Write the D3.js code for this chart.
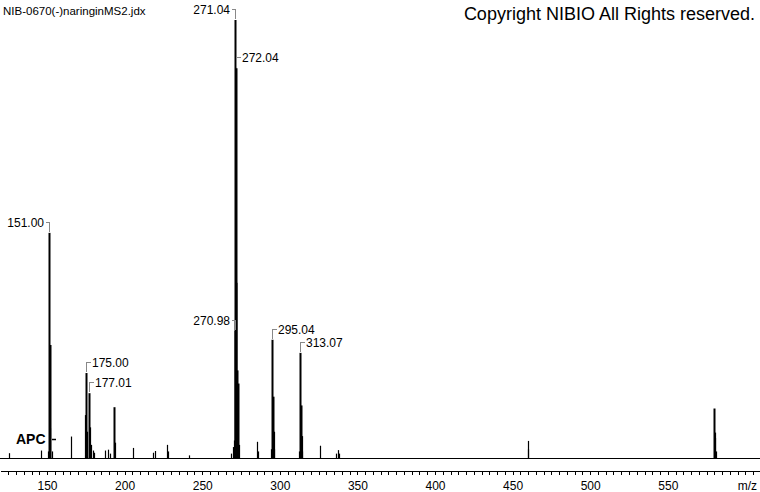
<!DOCTYPE html>
<html>
<head>
<meta charset="utf-8">
<script src="https://cdn.jsdelivr.net/npm/d3@7"></script>
<style>
  html, body { margin: 0; padding: 0; background: #fff; }
  svg { display: block; font-family: "Liberation Sans", Arial, sans-serif; }
</style>
</head>
<body>
<svg id="chart" width="760" height="492"></svg>
<script>
// ---- data ----
const fileName = "NIB-0670(-)naringinMS2.jdx";
const copyright = "Copyright NIBIO All Rights reserved.";
const ionLabel = "APC";
const axisUnit = "m/z";

// peak m/z values and relative intensities (%)
const peakMz = [125.8, 145.8, 150.4, 151.00, 151.6, 152.2, 153.0,
  165.6, 174.5, 175.00, 176.0, 177.01, 177.6, 178.3, 179.6, 180.4,
  187.5, 189.2, 190.5, 193.03, 193.5, 205.7, 218.5, 219.7, 227.2, 228.0, 241.8,
  268.8, 269.8, 270.3, 270.98, 271.04, 271.6, 272.04, 272.6, 273.04, 273.6,
  285.4, 286.0, 294.5, 295.04, 295.5, 296.0, 296.5,
  312.5, 313.07, 313.5, 314.0, 314.5,
  325.6, 336.5, 337.8, 338.3,
  459.6, 460.1, 579.7, 580.2, 580.6, 581.0];
const peakInt = [1.1, 1.7, 1.5, 51.4, 25.8, 6.8, 1.5,
  4.9, 9.8, 19.4, 6.0, 14.8, 7.0, 3.0, 1.7, 1.2,
  1.7, 1.9, 1.0, 11.6, 3.5, 2.3, 1.2, 1.6, 3.0, 1.5, 0.6,
  1.0, 2.5, 4.0, 29.0, 100, 40, 89, 20, 17, 3.0,
  3.7, 1.5, 2.0, 27, 14, 6.0, 2.0,
  1.5, 24, 12, 5.0, 1.5,
  2.8, 1.0, 1.8, 1.0,
  3.9, 2.0, 11.3, 5.8, 4.6, 1.5];

// annotated peaks
const labelMz = [151.00, 175.00, 177.01, 271.04, 272.04, 270.98, 295.04, 313.07];
const labelSide = ["left", "right", "right", "left", "right", "left", "right", "right"];

const tickValues = d3.range(125, 610, 5);
const tickLabelValues = [150, 200, 250, 300, 350, 400, 450, 500, 550];

// ---- drawing ----
const svg = d3.select("#chart");
const W = 760;
const x = d3.scaleLinear().domain([119.7, 609.4]).range([0, W]);
const y = d3.scaleLinear().domain([0, 100]).range([458, 20]);

const peaks = peakMz.map((m, i) => ({ m, v: peakInt[i] }));

// baseline
svg.append("line")
  .attr("x1", 0).attr("x2", W)
  .attr("y1", y(0)).attr("y2", y(0))
  .attr("stroke", "#000").attr("stroke-width", 1)
  .attr("shape-rendering", "crispEdges");

// peaks
svg.append("g").selectAll("line").data(peaks).join("line")
  .attr("x1", d => Math.round(x(d.m)) + 0.5)
  .attr("x2", d => Math.round(x(d.m)) + 0.5)
  .attr("y1", y(0))
  .attr("y2", d => y(d.v))
  .attr("stroke", "#000")
  .attr("stroke-width", d => d.v > 10 ? 2 : 1.2);

// axis
const axis = d3.axisBottom(x)
  .tickValues(tickValues)
  .tickSize(4)
  .tickSizeOuter(0)
  .tickPadding(6)
  .tickFormat(d => tickLabelValues.includes(d) ? d3.format("d")(d) : "");
const gAxis = svg.append("g")
  .attr("transform", "translate(0,471)")
  .call(axis);
gAxis.select(".domain").attr("stroke", "#000").attr("shape-rendering", "crispEdges");
gAxis.selectAll(".tick line").attr("stroke", "#000").attr("shape-rendering", "crispEdges");
gAxis.selectAll("text")
  .attr("font-family", "'Liberation Sans', Arial, sans-serif")
  .attr("font-size", 12).attr("fill", "#000");

svg.append("text")
  .attr("x", 757).attr("y", 481).attr("dy", "0.71em")
  .attr("text-anchor", "end")
  .attr("font-size", 12)
  .text(axisUnit);

// peak labels with brackets
const labelG = svg.append("g");
labelMz.forEach((m, i) => {
  const p = peaks.find(d => d.m === m);
  const px = Math.round(x(p.m)) + 0.5;
  const top = y(p.v);
  const ly = Math.round(top - 11) + 0.5;
  const side = labelSide[i];
  const hx = side === "left" ? px - 4 : px + 4;
  labelG.append("path")
    .attr("d", `M${px},${top - 1}V${ly}H${hx}`)
    .attr("fill", "none")
    .attr("stroke", "#888")
    .attr("stroke-width", 1)
    .attr("shape-rendering", "crispEdges");
  labelG.append("text")
    .attr("x", side === "left" ? hx - 1.5 : hx + 1.5)
    .attr("y", ly)
    .attr("dy", "0.35em")
    .attr("text-anchor", side === "left" ? "end" : "start")
    .attr("font-size", 12)
    .attr("fill", "#000")
    .text(d3.format(".2f")(m));
});

// titles
svg.append("text")
  .attr("x", 3).attr("y", 15)
  .attr("font-size", 11.5)
  .text(fileName);
svg.append("text")
  .attr("x", 755).attr("y", 19.5)
  .attr("text-anchor", "end")
  .attr("font-size", 18)
  .text(copyright);

// APC marker
svg.append("text")
  .attr("x", 16).attr("y", 439)
  .attr("dy", "0.35em")
  .attr("font-size", 14).attr("font-weight", "bold")
  .text(ionLabel);
svg.append("line")
  .attr("x1", 52).attr("x2", 56)
  .attr("y1", 439.5).attr("y2", 439.5)
  .attr("stroke", "#000").attr("stroke-width", 1.5);
</script>
</body>
</html>
